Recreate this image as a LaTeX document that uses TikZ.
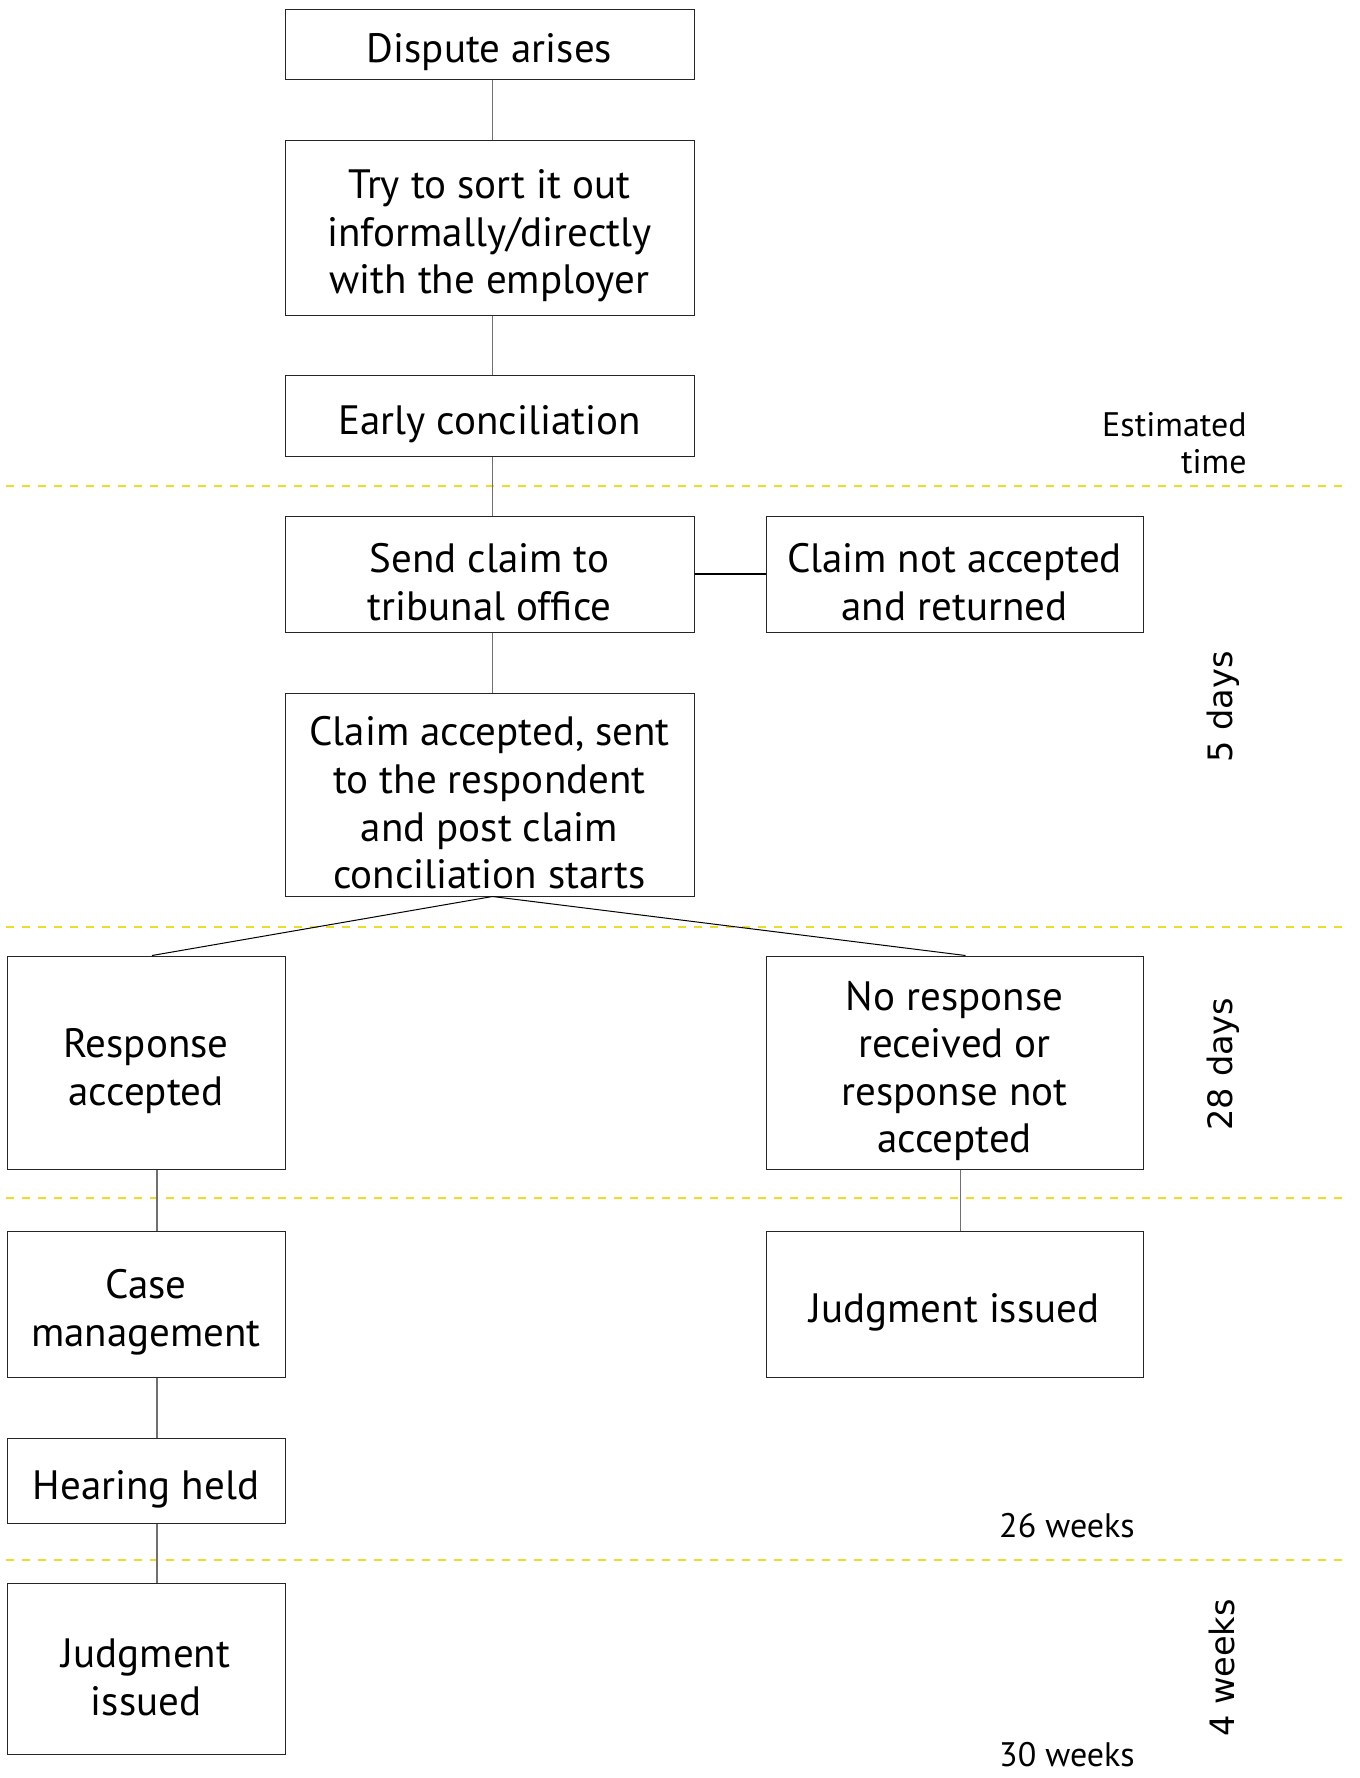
\documentclass[tikz,border=0pt]{standalone}
\usepackage{fontspec}
\setmainfont{PT Sans}
\newfontfamily\spanfont{DejaVu Sans}
\definecolor{dashyellow}{HTML}{F0DC28}
\definecolor{linkgrey}{HTML}{707070}
% extra room above the first line, so the text sits a little low in its box
\newcommand\lift{\rule{0pt}{23pt}}
\begin{document}
\begin{tikzpicture}[x=0.5pt,y=-0.5pt,
  stage/.style={draw=black!85, line width=0.5pt, inner sep=0pt, align=center,
    font=\fontsize{20.5}{23.8}\selectfont},
  link/.style={draw=linkgrey, line width=0.8pt},
  period/.style={draw=dashyellow, line width=1pt, dash pattern=on 4pt off 4pt},
  note/.style={inner sep=0pt, font=\fontsize{17}{18.5}\selectfont},
  span/.style={inner sep=0pt, rotate=90, font=\spanfont\fontsize{16.8}{20}\selectfont}]
\useasboundingbox (0,0) rectangle (1360,1778);
% time bands
\foreach \y in {486,927,1198,1560}
  \draw[period] (6,\y) -- (1350,\y);
% main column
\node[stage, minimum width=204.5pt, minimum height=35pt] (dispute) at (489.5,44) {\lift Dispute arises};
\node[stage, minimum width=204.5pt, minimum height=87.5pt] (sortout) at (489.5,227.5) {\lift Try to sort it out\\informally/directly\\with the employer};
\node[stage, minimum width=204.5pt, minimum height=40.5pt] (early) at (489.5,415.5) {\lift Early conciliation};
\node[stage, minimum width=204.5pt, minimum height=58pt] (sendclaim) at (489.5,574) {\lift Send claim to\\tribunal office};
\node[stage, minimum width=188.5pt, minimum height=58pt] (returned) at (954.5,574) {\lift Claim not accepted\\and returned};
\node[stage, minimum width=204.5pt, minimum height=101.5pt] (accepted) at (489.5,794.5) {\lift Claim accepted, sent\\to the respondent\\and post claim\\conciliation starts};
% two outcomes
\node[stage, minimum width=139pt, minimum height=106.5pt] (response) at (146,1062.5) {\lift Response\\accepted};
\node[stage, minimum width=188.5pt, minimum height=106.5pt] (noresponse) at (954.5,1062.5) {\lift No response\\received or\\response not\\accepted};
\node[stage, minimum width=139pt, minimum height=73pt] (casemgmt) at (146,1304) {\lift Case\\management};
\node[stage, minimum width=188.5pt, minimum height=73pt] (judgmentR) at (954.5,1304) {\lift Judgment issued};
\node[stage, minimum width=139pt, minimum height=42.5pt] (hearing) at (146,1480.5) {\lift Hearing held};
\node[stage, minimum width=139pt, minimum height=85.5pt] (judgmentL) at (146,1668.5) {\lift Judgment\\issued};
% estimated time
\node[note, align=right, anchor=east] (esttime) at (1247,443) {Estimated\\time};
\node[note] (wk26) at (1067,1526) {26 weeks};
\node[note] (wk30) at (1067,1755) {30 weeks};
\node[span] (days5) at (1223,707) {5 days};
\node[span] (days28) at (1223,1064) {28 days};
\node[span] (weeks4) at (1222,1668) {4 weeks};
% connectors
\draw[link] ([xshift=1.5pt]dispute.south) -- ([xshift=1.5pt]sortout.north);
\draw[link] ([xshift=1.5pt]sortout.south) -- ([xshift=1.5pt]early.north);
\draw[link] ([xshift=1.5pt]early.south) -- ([xshift=1.5pt]sendclaim.north);
\draw[link] ([xshift=1.5pt]sendclaim.south) -- ([xshift=1.5pt]accepted.north);
\draw[line width=0.6pt] (sendclaim.east) -- (returned.west);
\draw[line width=0.5pt] ([xshift=1.5pt]accepted.south) -- ([xshift=3pt]response.north);
\draw[line width=0.5pt] ([xshift=1.5pt]accepted.south) -- ([xshift=5.5pt]noresponse.north);
\draw[link] ([xshift=5.5pt]response.south) -- ([xshift=5.5pt]casemgmt.north);
\draw[link] ([xshift=5.5pt]casemgmt.south) -- ([xshift=5.5pt]hearing.north);
\draw[link] ([xshift=5.5pt]hearing.south) -- ([xshift=5.5pt]judgmentL.north);
\draw[link] ([xshift=3pt]noresponse.south) -- ([xshift=3pt]judgmentR.north);
\end{tikzpicture}
\end{document}
